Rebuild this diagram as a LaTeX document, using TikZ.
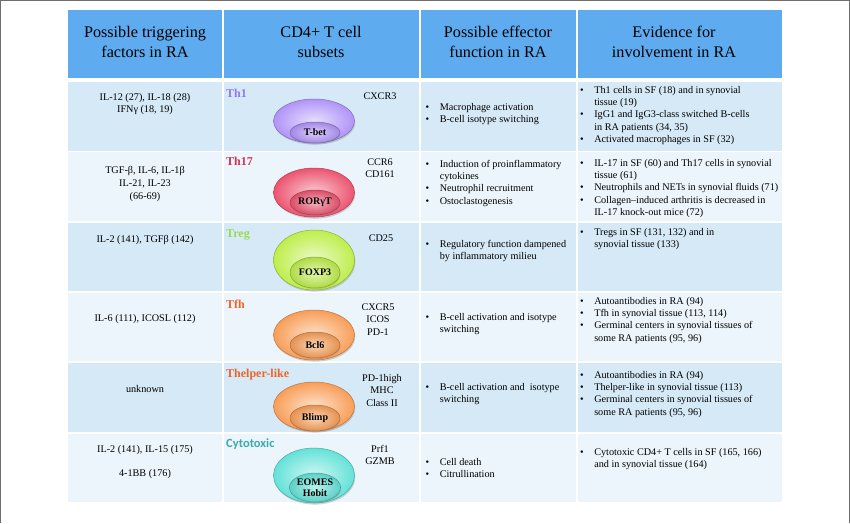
\documentclass[tikz,border=0pt]{standalone}
\usepackage{fontspec}
\setmainfont{Liberation Serif}
\newfontfamily\calibri{Carlito}
\usetikzlibrary{shapes.geometric,shadows}
\definecolor{headblue}{RGB}{94,171,240}
\definecolor{rowdark}{RGB}{214,233,246}
\definecolor{rowlight}{RGB}{236,245,251}
\definecolor{framegray}{RGB}{110,110,110}
\definecolor{thone}{RGB}{176,148,248}
\definecolor{thseventeen}{RGB}{236,84,112}
\definecolor{treg}{RGB}{190,238,76}
\definecolor{tfh}{RGB}{248,158,88}
\definecolor{cyto}{RGB}{100,226,216}
\definecolor{thonetxt}{RGB}{150,120,232}
\definecolor{thseventeentxt}{RGB}{208,52,84}
\definecolor{tregtxt}{RGB}{155,218,80}
\definecolor{tfhtxt}{RGB}{240,98,40}
\definecolor{cytotxt}{RGB}{60,170,175}
\newcommand{\blist}[1]{\begin{tabular}[t]{@{}l@{\hspace{10.5pt}}l@{}}#1\end{tabular}}
\newcommand{\clist}[1]{\begin{tabular}[t]{@{}c@{}}#1\end{tabular}}
\newcommand{\bl}{\textbullet}
\begin{document}
\begin{tikzpicture}[x=1pt, y=-1pt,
	headtxt/.style={align=center, inner sep=0pt, font=\fontsize{16.2pt}{20pt}\selectfont},
	bodytxt/.style={inner sep=0pt, font=\fontsize{10.2pt}{12.2pt}\selectfont},
	factors/.style={bodytxt, anchor=base},
	markers/.style={bodytxt, anchor=base, font=\fontsize{10.2pt}{12.4pt}\selectfont},
	subsetlbl/.style={inner sep=0pt, anchor=base west, font=\fontsize{12pt}{14pt}\selectfont\bfseries},
	cellout/.style={ellipse, inner sep=0pt, minimum width=81pt, draw=#1!75!black, line width=0.5pt,
		inner color=#1!30!white, outer color=#1,
		drop shadow={opacity=0.35, shadow xshift=0.8pt, shadow yshift=-1.6pt}},
	cellin/.style={ellipse, inner sep=0pt, minimum width=50pt, draw=#1!70!black, line width=0.5pt,
		inner color=#1!45!white, outer color=#1!92!black, align=center,
		font=\fontsize{10pt}{11.5pt}\selectfont\bfseries,
		drop shadow={opacity=0.3, shadow xshift=0.6pt, shadow yshift=-1.2pt}}]
	\useasboundingbox (0,0) rectangle (850,523);
	\draw[framegray, line width=1.2pt] (0.6,523) -- (0.6,0.6) -- (849.4,0.6) -- (849.4,523);

	% header and row cells
	\foreach \a/\b in {68/222,224/419,421/575.5,577.5/782}
		\fill[headblue] (\a,10) rectangle (\b,78);
	\foreach \i/\c in {0/rowdark,1/rowlight,2/rowdark,3/rowlight,4/rowdark,5/rowlight} {
		\pgfmathsetmacro\t{82+70.3*\i}
		\foreach \a/\b in {68/222,224/419,421/575.5,577.5/782}
			\fill[\c] (\a,\t) rectangle (\b,{\t+68.5});
	}

	\node[headtxt] (h1) at (145,42) {Possible triggering\\factors in RA};
	\node[headtxt] (h2) at (321,42) {CD4+ T cell\\subsets};
	\node[headtxt] (h3) at (498,42) {Possible effector\\function in RA};
	\node[headtxt] (h4) at (674,42) {Evidence for\\involvement in RA};

	% Th1
	\node[factors, font=\fontsize{10.2pt}{11.7pt}\selectfont] (f1) at (145,100.5) {\clist{IL-12 (27), IL-18 (28)\\IFNγ (18, 19)}};
	\node[subsetlbl, thonetxt] (l1) at (226,97) {Th1};
	\node[cellout=thone, minimum height=44pt] (o1) at (314,121) {};
	\node[cellin=thone, minimum height=21pt] (i1) at (315,132.5) {T-bet};
	\node[markers] (m1) at (380,99.5) {CXCR3};
	\node[bodytxt, anchor=base west] (e1) at (425.5,110.5) {\blist{\bl & Macrophage activation\\ \bl & B-cell isotype switching}};
	\node[bodytxt, anchor=base west] (v1) at (580,93.5) {\blist{\bl & Th1 cells in SF (18) and in synovial\\ & tissue (19)\\ \bl & IgG1 and IgG3-class switched B-cells\\ & in RA patients (34, 35)\\ \bl & Activated macrophages in SF (32)}};

	% Th17
	\node[factors, font=\fontsize{10.2pt}{13pt}\selectfont] (f2) at (145,173.5) {\clist{TGF-β, IL-6, IL-1β\\IL-21, IL-23\\(66-69)}};
	\node[subsetlbl, thseventeentxt] (l2) at (226,165) {Th17};
	\node[cellout=thseventeen, minimum height=49pt] (o2) at (314,192.5) {};
	\node[cellin=thseventeen, minimum height=25pt] (i2) at (315,202.5) {RORγT};
	\node[markers] (m2) at (380,165.5) {\clist{CCR6\\CD161}};
	\node[bodytxt, anchor=base west] (e2) at (425.5,167.5) {\blist{\bl & Induction of proinflammatory\\ & cytokines\\ \bl & Neutrophil recruitment\\ \bl & Ostoclastogenesis}};
	\node[bodytxt, anchor=base west] (v2) at (580,166.5) {\blist{\bl & IL-17 in SF (60) and Th17 cells in synovial\\ & tissue (61)\\ \bl & Neutrophils and NETs in synovial fluids (71)\\ \bl & Collagen–induced arthritis is decreased in\\ & IL-17 knock-out mice (72)}};

	% Treg
	\node[factors] (f3) at (145,242.5) {IL-2 (141), TGFβ (142)};
	\node[subsetlbl, tregtxt] (l3) at (226,237) {Treg};
	\node[cellout=treg, minimum height=60pt] (o3) at (314,260) {};
	\node[cellin=treg, minimum height=31pt] (i3) at (315,272.5) {FOXP3};
	\node[markers] (m3) at (381,241.5) {CD25};
	\node[bodytxt, anchor=base west] (e3) at (425.5,247.5) {\blist{\bl & Regulatory function dampened\\ & by inflammatory milieu}};
	\node[bodytxt, anchor=base west] (v3) at (580,235.5) {\blist{\bl & Tregs in SF (131, 132) and in\\ & synovial tissue (133)}};

	% Tfh
	\node[factors] (f4) at (145,321.5) {IL-6 (111), ICOSL (112)};
	\node[subsetlbl, tfhtxt] (l4) at (226,308) {Tfh};
	\node[cellout=tfh, minimum height=50pt] (o4) at (314,335) {};
	\node[cellin=tfh, minimum height=26pt] (i4) at (315,345) {Bcl6};
	\node[markers] (m4) at (378,310.5) {\clist{CXCR5\\ICOS\\PD-1}};
	\node[bodytxt, anchor=base west] (e4) at (425.5,320.5) {\blist{\bl & B-cell activation and isotype\\ & switching}};
	\node[bodytxt, anchor=base west] (v4) at (580,304.5) {\blist{\bl & Autoantibodies in RA (94)\\ \bl & Tfh in synovial tissue (113, 114)\\ \bl & Germinal centers in synovial tissues of\\ & some RA patients (95, 96)}};

	% Thelper-like
	\node[factors] (f5) at (145,392.5) {unknown};
	\node[subsetlbl, tfhtxt] (l5) at (226,377) {Thelper-like};
	\node[cellout=tfh, minimum height=49pt] (o5) at (314,406.5) {};
	\node[cellin=tfh, minimum height=26pt] (i5) at (315,418) {Blimp};
	\node[markers] (m5) at (382,381.5) {\clist{PD-1high\\MHC\\Class II}};
	\node[bodytxt, anchor=base west] (e5) at (425.5,390.5) {\blist{\bl & B-cell activation and \ isotype\\ & switching}};
	\node[bodytxt, anchor=base west] (v5) at (580,378.5) {\blist{\bl & Autoantibodies in RA (94)\\ \bl & Thelper-like in synovial tissue (113)\\ \bl & Germinal centers in synovial tissues of\\ & some RA patients (95, 96)}};

	% Cytotoxic
	\node[factors] (f6) at (145,452.5) {\clist{IL-2 (141), IL-15 (175)\\[12pt]4-1BB (176)}};
	\node[subsetlbl, cytotxt, font=\fontsize{12.5pt}{14pt}\selectfont\calibri\bfseries] (l6) at (226,447) {Cytotoxic};
	\node[cellout=cyto, minimum height=55pt] (o6) at (314,475.5) {};
	\node[cellin=cyto, minimum height=29pt] (i6) at (315,487.5) {EOMES\\Hobit};
	\node[markers] (m6) at (380,452.5) {\clist{Prf1\\GZMB}};
	\node[bodytxt, anchor=base west] (e6) at (425.5,465.5) {\blist{\bl & Cell death\\ \bl & Citrullination}};
	\node[bodytxt, anchor=base west] (v6) at (580,455.5) {\blist{\bl & Cytotoxic CD4+ T cells in SF (165, 166)\\ & and in synovial tissue (164)}};
\end{tikzpicture}
\end{document}
